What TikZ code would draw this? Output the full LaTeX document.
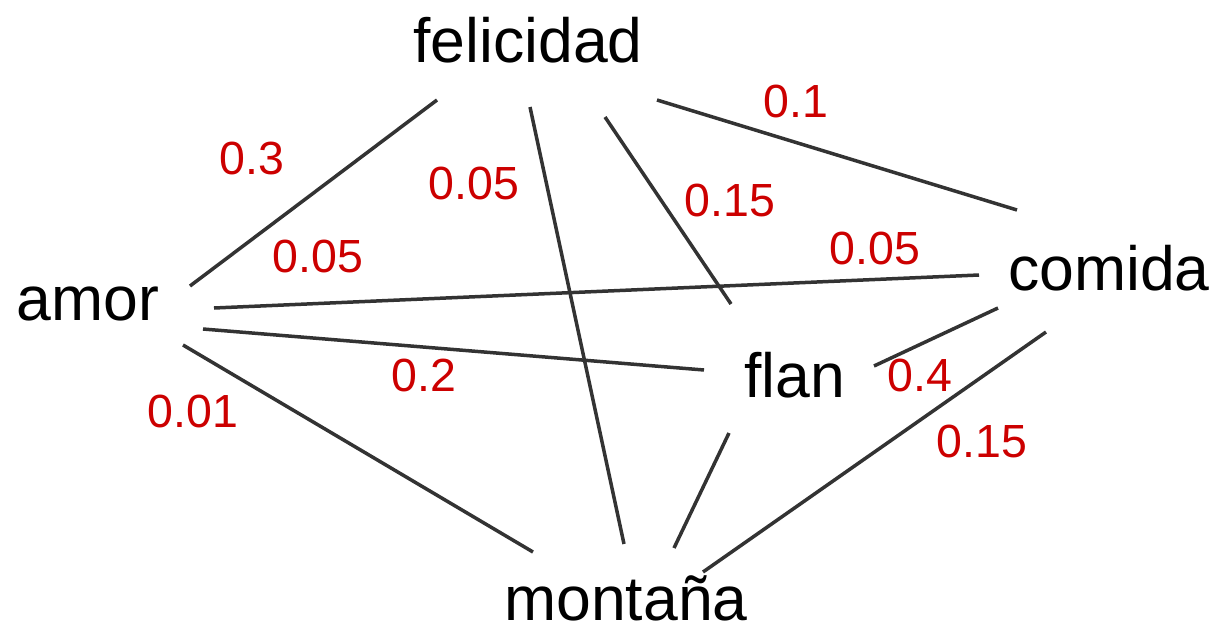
\documentclass[tikz,border=0pt]{standalone}
\usepackage{fontspec}
\setmainfont{Liberation Sans}
\definecolor{edgegray}{HTML}{333333}
\definecolor{labred}{HTML}{CC0000}
\begin{document}
\begin{tikzpicture}[x=1pt,y=-1pt,
  word/.style={inner sep=0pt,anchor=base,font=\fontsize{62.5}{70}\selectfont,text=black},
  wlabel/.style={inner sep=0pt,anchor=base,font=\fontsize{46.5}{52}\selectfont,text=labred},
  edge/.style={draw=edgegray,line width=3.5pt}]
\useasboundingbox (0,0) rectangle (1213,624);
% words
\node[word] (felicidad) at (528,62) {felicidad};
\node[word] (amor) at (88,320) {amor};
\node[word] (comida) at (1109,290) {comida};
\node[word] (flan) at (795,397) {flan};
\node[word] (montana) at (626,620) {montaña};
% edge end points
\coordinate (fa1) at (437,100); \coordinate (fa2) at (190,286);
\coordinate (fm1) at (530,107); \coordinate (fm2) at (624,544);
\coordinate (ff1) at (605,117); \coordinate (ff2) at (731,304);
\coordinate (fc1) at (657,100); \coordinate (fc2) at (1017,210);
\coordinate (ac1) at (214,308); \coordinate (ac2) at (979,275);
\coordinate (af1) at (203,329); \coordinate (af2) at (704,370);
\coordinate (am1) at (183,345); \coordinate (am2) at (533,552);
\coordinate (lc1) at (874,366); \coordinate (lc2) at (998,308);
\coordinate (lm1) at (729,433); \coordinate (lm2) at (674,548);
\coordinate (cm1) at (1046,332); \coordinate (cm2) at (703,572);
% edges
\draw[edge] (fa1) -- (fa2);
\draw[edge] (fm1) -- (fm2);
\draw[edge] (ff1) -- (ff2);
\draw[edge] (fc1) -- (fc2);
\draw[edge] (ac1) -- (ac2);
\draw[edge] (af1) -- (af2);
\draw[edge] (am1) -- (am2);
\draw[edge] (lc1) -- (lc2);
\draw[edge] (lm1) -- (lm2);
\draw[edge] (cm1) -- (cm2);
% labels
\node[wlabel] (l1) at (252,174) {0.3};
\node[wlabel] (l2) at (474,199) {0.05};
\node[wlabel] (l3) at (318,272) {0.05};
\node[wlabel] (l4) at (730,216) {0.15};
\node[wlabel] (l5) at (796,117) {0.1};
\node[wlabel] (l6) at (875,264) {0.05};
\node[wlabel] (l7) at (424,391) {0.2};
\node[wlabel] (l8) at (920,391) {0.4};
\node[wlabel] (l9) at (982,457) {0.15};
\node[wlabel] (l10) at (193,427) {0.01};
\end{tikzpicture}
\end{document}
